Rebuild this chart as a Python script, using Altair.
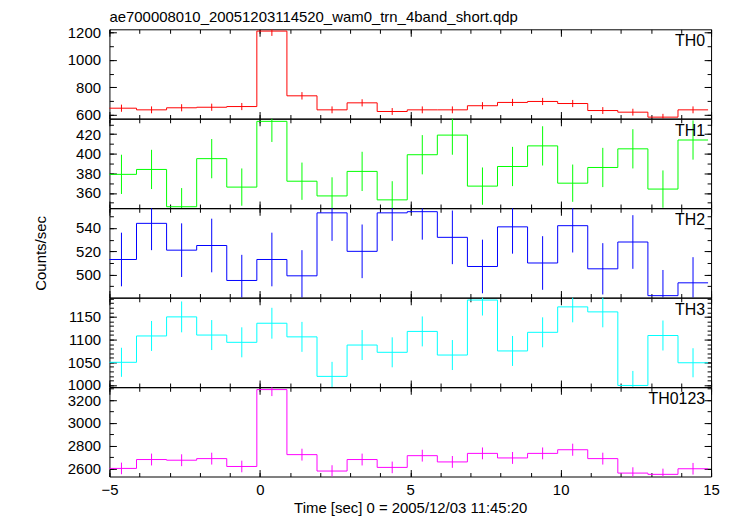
import altair as alt
import pandas as pd

title_text = "ae700008010_20051203114520_wam0_trn_4band_short.qdp"
x_title = "Time [sec] 0 = 2005/12/03 11:45:20"
y_title = "Counts/sec"

bin_centers = [-4.6, -3.6, -2.6, -1.6, -0.6, 0.4, 1.4, 2.4, 3.4, 4.4,
               5.4, 6.4, 7.4, 8.4, 9.4, 10.4, 11.4, 12.4, 13.4, 14.4]
bin_half_width = 0.5

names = ["TH0", "TH1", "TH2", "TH3", "TH0123"]
colors = ["#ff0000", "#00ff00", "#0000ff", "#00ffff", "#ff00ff"]

th0 = [648, 636, 651, 655, 660, 1209, 738, 636, 687, 624, 636, 636, 666, 690, 697, 682, 631, 619, 583, 636]
th0_err = [26, 25, 26, 26, 26, 35, 27, 25, 26, 25, 25, 25, 26, 26, 26, 26, 25, 25, 24, 25]
th1 = [379, 384, 346, 395, 366, 433, 372, 357, 382, 353, 399, 419, 367, 387, 408, 370, 386, 405, 364, 414]
th1_err = [20, 20, 19, 20, 19, 21, 19, 19, 20, 19, 20, 20, 19, 20, 20, 19, 20, 20, 19, 20]
th2 = [513, 544, 521, 525, 495, 513, 499, 553, 520, 553, 554, 532, 507, 541, 510, 542, 505, 528, 482, 493]
th2_err = [23, 23, 23, 23, 22, 23, 22, 24, 23, 24, 24, 23, 23, 23, 23, 23, 22, 23, 22, 22]
th3 = [1050, 1108, 1150, 1110, 1094, 1136, 1106, 1019, 1088, 1072, 1118, 1066, 1187, 1075, 1116, 1172, 1161, 999, 1109, 1049]
th3_err = [32, 33, 34, 33, 33, 34, 33, 32, 33, 33, 33, 33, 34, 33, 33, 34, 34, 32, 33, 32]
th0123 = [2600, 2678, 2672, 2686, 2617, 3292, 2721, 2577, 2678, 2609, 2712, 2657, 2732, 2692, 2732, 2764, 2686, 2559, 2548, 2597]
th0123_err = [51, 52, 52, 52, 51, 57, 52, 51, 52, 51, 52, 52, 52, 52, 52, 53, 52, 51, 50, 51]

rates = [th0, th1, th2, th3, th0123]
errors = [th0_err, th1_err, th2_err, th3_err, th0123_err]

y_domains = [[573, 1222], [344.7, 435.6], [480.4, 556.9], [995.6, 1192], [2529, 3312]]
y_major = [[600, 800, 1000, 1200], [360, 380, 400, 420], [500, 520, 540],
           [1000, 1050, 1100, 1150], [2600, 2800, 3000, 3200]]
y_minor = [list(range(600, 1201, 100)), list(range(350, 431, 10)), list(range(490, 551, 10)),
           list(range(1000, 1191, 10)), list(range(2600, 3301, 100))]

x_domain = [-5, 15]
x_major = [-5, 0, 5, 10, 15]
x_minor = list(range(-5, 16))

FONT = "Liberation Sans"
W = 605
H = 89.7
FS = 15


def minor_axis(orient, values):
    return alt.Axis(orient=orient, values=values, tickSize=4, offset=-4, labels=False,
                    domain=False, grid=False, title=None, tickColor="black", tickWidth=1)


def major_axis(orient, values, labels=False, title=None, **kw):
    args = dict(orient=orient, values=values, tickSize=7, offset=-7, labels=labels,
                domain=False, grid=False, tickColor="black", tickWidth=1,
                labelFont=FONT, labelFontSize=FS, labelColor="black", format="d",
                labelFlush=False, labelOverlap=False)
    if title is not None:
        args.update(title=title, titleFont=FONT, titleFontSize=FS, titleFontWeight="normal",
                    titleColor="black")
    else:
        args.update(title=None)
    args.update(kw)
    return alt.Axis(**args)


def panel(i, last):
    rate = rates[i]
    err = errors[i]
    df = pd.DataFrame({"t": bin_centers, "rate": rate, "err": err})
    df["lo"] = df["rate"] - df["err"]
    df["hi"] = df["rate"] + df["err"]
    edges = [c - bin_half_width for c in bin_centers] + [bin_centers[-1] + bin_half_width]
    step_df = pd.DataFrame({"t": edges, "rate": list(rate) + [rate[-1]]})

    xs = alt.Scale(domain=x_domain, nice=False, zero=False)
    ys = alt.Scale(domain=y_domains[i], nice=False, zero=False)
    col = colors[i]

    step = alt.Chart(step_df).mark_line(interpolate="step-after", color=col, strokeWidth=1,
                                        clip=True).encode(
        x=alt.X("t:Q", scale=xs, axis=minor_axis("top", x_minor)),
        y=alt.Y("rate:Q", scale=ys, axis=minor_axis("left", y_minor[i])),
    )

    ykw = {}
    ytitle = None
    if i == 2:
        ytitle = y_title
        ykw = dict(titleX=-68, titleY=H / 2, titleAngle=270, titleBaseline="bottom", titleAlign="center")
    bars = alt.Chart(df).mark_rule(color=col, strokeWidth=1, clip=True).encode(
        x=alt.X("t:Q", scale=xs, axis=major_axis("top", x_major)),
        y=alt.Y("lo:Q", scale=ys, axis=major_axis("left", y_major[i], labels=True, title=ytitle,
                                                    labelPadding=9, **ykw)),
        y2="hi:Q",
    )

    inv1 = alt.Chart(df).mark_point(opacity=0, clip=True).encode(
        x=alt.X("t:Q", scale=xs, axis=minor_axis("bottom", x_minor)),
        y=alt.Y("rate:Q", scale=ys, axis=minor_axis("right", y_minor[i])),
    )

    if last:
        xb = major_axis("bottom", x_major, labels=True, title=x_title, labelPadding=6, titlePadding=3)
    else:
        xb = major_axis("bottom", x_major)
    inv2 = alt.Chart(df).mark_point(opacity=0, clip=True).encode(
        x=alt.X("t:Q", scale=xs, axis=xb),
        y=alt.Y("rate:Q", scale=ys, axis=major_axis("right", y_major[i])),
    )

    lab = alt.Chart(pd.DataFrame({"name": [names[i]]})).mark_text(
        align="right", baseline="middle", font=FONT, fontSize=16, color="black"
    ).encode(x=alt.value(W - 6), y=alt.value(12), text="name:N")

    return alt.layer(step, bars, inv1, inv2, lab).resolve_axis(
        x="independent", y="independent").properties(width=W, height=H)


panels = [panel(i, i == 4) for i in range(5)]

chart = alt.vconcat(*panels, spacing=0, bounds="flush").properties(
    title=alt.TitleParams(text=title_text, anchor="start", frame="group", font=FONT,
                          fontSize=FS, fontWeight="normal", color="black", offset=0),
    padding={"left": 25, "top": 0, "right": 5, "bottom": 0},
    background="white",
).configure_view(stroke="black", strokeWidth=1)

chart.save("out.html", embed_options={"renderer": "svg", "actions": False})
